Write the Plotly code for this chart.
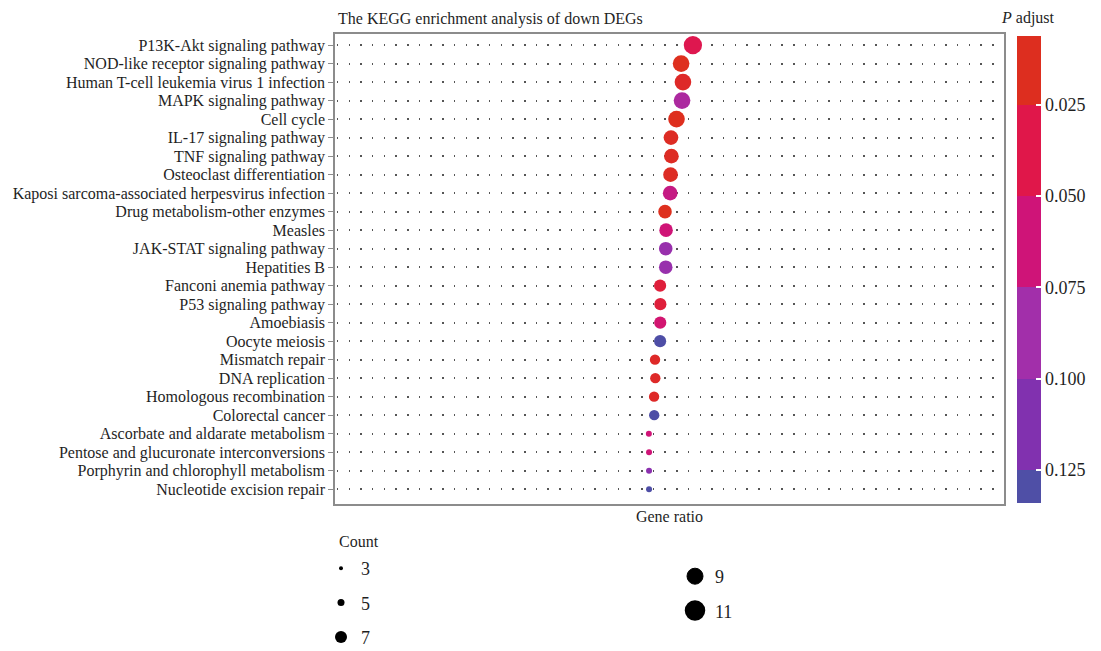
import math
import plotly.graph_objects as go

# ---------------- data ----------------
pathways = [
    "P13K-Akt signaling pathway",
    "NOD-like receptor signaling pathway",
    "Human T-cell leukemia virus 1 infection",
    "MAPK signaling pathway",
    "Cell cycle",
    "IL-17 signaling pathway",
    "TNF signaling pathway",
    "Osteoclast differentiation",
    "Kaposi sarcoma-associated herpesvirus infection",
    "Drug metabolism-other enzymes",
    "Measles",
    "JAK-STAT signaling pathway",
    "Hepatities B",
    "Fanconi anemia pathway",
    "P53 signaling pathway",
    "Amoebiasis",
    "Oocyte meiosis",
    "Mismatch repair",
    "DNA replication",
    "Homologous recombination",
    "Colorectal cancer",
    "Ascorbate and aldarate metabolism",
    "Pentose and glucuronate interconversions",
    "Porphyrin and chlorophyll metabolism",
    "Nucleotide excision repair",
]
gene_ratio = [0.0982, 0.0790, 0.0820, 0.0805, 0.0715, 0.0625, 0.0632, 0.0618, 0.0612,
              0.0528, 0.0545, 0.0540, 0.0540, 0.0448, 0.0452, 0.0450, 0.0448,
              0.0365, 0.0370, 0.0350, 0.0352, 0.0265, 0.0268, 0.0268, 0.0268]
counts = [11, 9, 9, 9, 9, 7, 7, 7, 7, 6, 6, 6, 6, 5, 5, 5, 5, 4, 4, 4, 4, 3, 3, 3, 3]
p_adjust = [0.040, 0.012, 0.020, 0.082, 0.014, 0.018, 0.018, 0.018, 0.068,
            0.012, 0.062, 0.095, 0.095, 0.030, 0.030, 0.058, 0.130,
            0.020, 0.020, 0.020, 0.130, 0.062, 0.062, 0.105, 0.130]
legend_counts_1 = [3, 5, 7]
legend_counts_2 = [9, 11]
cbar_ticks = [0.025, 0.050, 0.075, 0.100, 0.125]
cbar_ticktext = ["0.025", "0.050", "0.075", "0.100", "0.125"]

# ---------------- styling ----------------
FONT = "Liberation Serif"
TXT = "#1f1f1f"
CMIN, CMAX = 0.00625, 0.134
band_colors = ["#DD2E1F", "#E0174A", "#CF1478", "#A22FAA", "#8131AF", "#4F4FA6"]
edges = [CMIN, 0.025, 0.050, 0.075, 0.100, 0.125, CMAX]


def norm(v):
    return (v - CMIN) / (CMAX - CMIN)


# continuous scale for the points (low p = red)
cont = [[0.0, "#E0321C"]]
for i, c in enumerate(band_colors):
    cont.append([norm((edges[i] + edges[i + 1]) / 2), c])
cont.append([1.0, "#4A4AA8"])

# stepped scale for the colour bar, drawn on negated values so that small p sits on top
neg_stepped = []
for i in range(len(band_colors) - 1, -1, -1):
    lo = 1 - norm(edges[i + 1])
    hi = 1 - norm(edges[i])
    neg_stepped.append([lo, band_colors[i]])
    neg_stepped.append([hi, band_colors[i]])
neg_stepped[0][0] = 0.0
neg_stepped[-1][0] = 1.0


def dot_size(c):
    return 6 + 12.3 * math.sqrt((c - 3) / 8)


legend_sizes = {3: (4, 0), 5: (7, 0), 7: (12, 0), 9: (16, 1), 11: (16, 4.5)}

# page offset (body margin of the html page)
OFF = 8
W, H = 1101 - OFF, 651 - OFF
# plot area in page px
PL, PR, PT, PB = 335, 1004, 34, 504
PW, PH = PR - PL, PB - PT


def px_x(px):
    return (px - PL) / PW


def px_y(py):
    return (PB - py) / PH


fig = go.Figure()

# colorbar carrier (invisible)
fig.add_trace(go.Scatter(
    x=gene_ratio, y=pathways, mode="markers", hoverinfo="skip", showlegend=False,
    marker=dict(size=1, opacity=0, color=[-p for p in p_adjust], colorscale=neg_stepped,
                cmin=-CMAX, cmax=-CMIN, showscale=True,
                colorbar=dict(
                    x=px_x(1017), xanchor="left", xref="paper", xpad=0,
                    y=px_y(269.5), yanchor="middle", ypad=0,
                    len=467, lenmode="pixels", thickness=24, thicknessmode="pixels",
                    outlinewidth=0, tickvals=[-t for t in cbar_ticks], ticktext=cbar_ticktext,
                    ticks="inside", ticklen=5, tickwidth=1.5, tickcolor="white",
                    tickfont=dict(family=FONT, size=18, color=TXT),
                    title=dict(text=""),
                )),
))

# data points
fig.add_trace(go.Scatter(
    x=gene_ratio, y=pathways, mode="markers", showlegend=False,
    customdata=list(zip(counts, p_adjust)),
    hovertemplate="%{y}<br>Gene ratio: %{x}<br>Count: %{customdata[0]}<br>P adjust: %{customdata[1]}<extra></extra>",
    marker=dict(size=[dot_size(c) for c in counts], color=p_adjust, colorscale=cont,
                cmin=CMIN, cmax=CMAX, showscale=False, opacity=1, line=dict(width=0)),
))

# size legend entries
for lg, vals in (("legend", legend_counts_1), ("legend2", legend_counts_2)):
    for c in vals:
        s, lw = legend_sizes[c]
        fig.add_trace(go.Scatter(
            x=[None], y=[None], mode="markers", name=str(c), legend=lg, legendgroup=str(c),
            marker=dict(size=s, color="black", line=dict(width=lw, color="black")),
        ))

fig.update_layout(
    width=W, height=H,
    margin=dict(l=PL - OFF, r=W - (PR - OFF), t=PT - OFF, b=H - (PB - OFF), autoexpand=False),
    paper_bgcolor="white", plot_bgcolor="white",
    font=dict(family=FONT, color=TXT),
    title=dict(text="The KEGG enrichment analysis of down DEGs", x=(338 - OFF) / W, xanchor="left",
               y=1 - (18 - OFF) / H, yanchor="middle", font=dict(family=FONT, size=16, color=TXT)),
    xaxis=dict(range=[-0.4846, 0.6048], showticklabels=False, ticks="", showgrid=False,
               zeroline=False, showline=True, linecolor="#8c8c8c", linewidth=1.5, mirror=True,
               title=dict(text="Gene ratio", standoff=6, font=dict(family=FONT, size=16, color=TXT))),
    yaxis=dict(type="category", categoryorder="array", categoryarray=pathways,
               tickmode="array", tickvals=pathways, ticktext=pathways,
               range=[len(pathways) - 1 + 0.8, -0.6],
               showgrid=True, gridcolor="#555555", gridwidth=1.5, griddash="0px,1.8px,1.5px,8.4px",
               zeroline=False, showline=True, linecolor="#8c8c8c", linewidth=1.5, mirror=True,
               ticks="outside", ticklen=5, tickcolor="#8c8c8c", tickwidth=1.2,
               tickfont=dict(family=FONT, size=16, color=TXT)),
    showlegend=True,
    legend=dict(x=px_x(321), y=px_y(550), xanchor="left", yanchor="top",
                font=dict(family=FONT, size=18, color=TXT), tracegroupgap=8,
                bgcolor="rgba(0,0,0,0)", itemsizing="trace"),
    legend2=dict(x=px_x(675), y=px_y(558), xanchor="left", yanchor="top",
                 font=dict(family=FONT, size=18, color=TXT), tracegroupgap=8,
                 bgcolor="rgba(0,0,0,0)", itemsizing="trace"),
    annotations=[
        dict(text="<i>P</i> adjust", xref="paper", yref="paper", x=px_x(999),
             y=px_y(18), xanchor="left", yanchor="middle", showarrow=False,
             font=dict(family=FONT, size=16, color=TXT)),
        dict(text="Count", xref="paper", yref="paper", x=px_x(337),
             y=px_y(541), xanchor="left", yanchor="middle", showarrow=False,
             font=dict(family=FONT, size=16, color=TXT)),
    ],
)

fig.write_html("out.html")
